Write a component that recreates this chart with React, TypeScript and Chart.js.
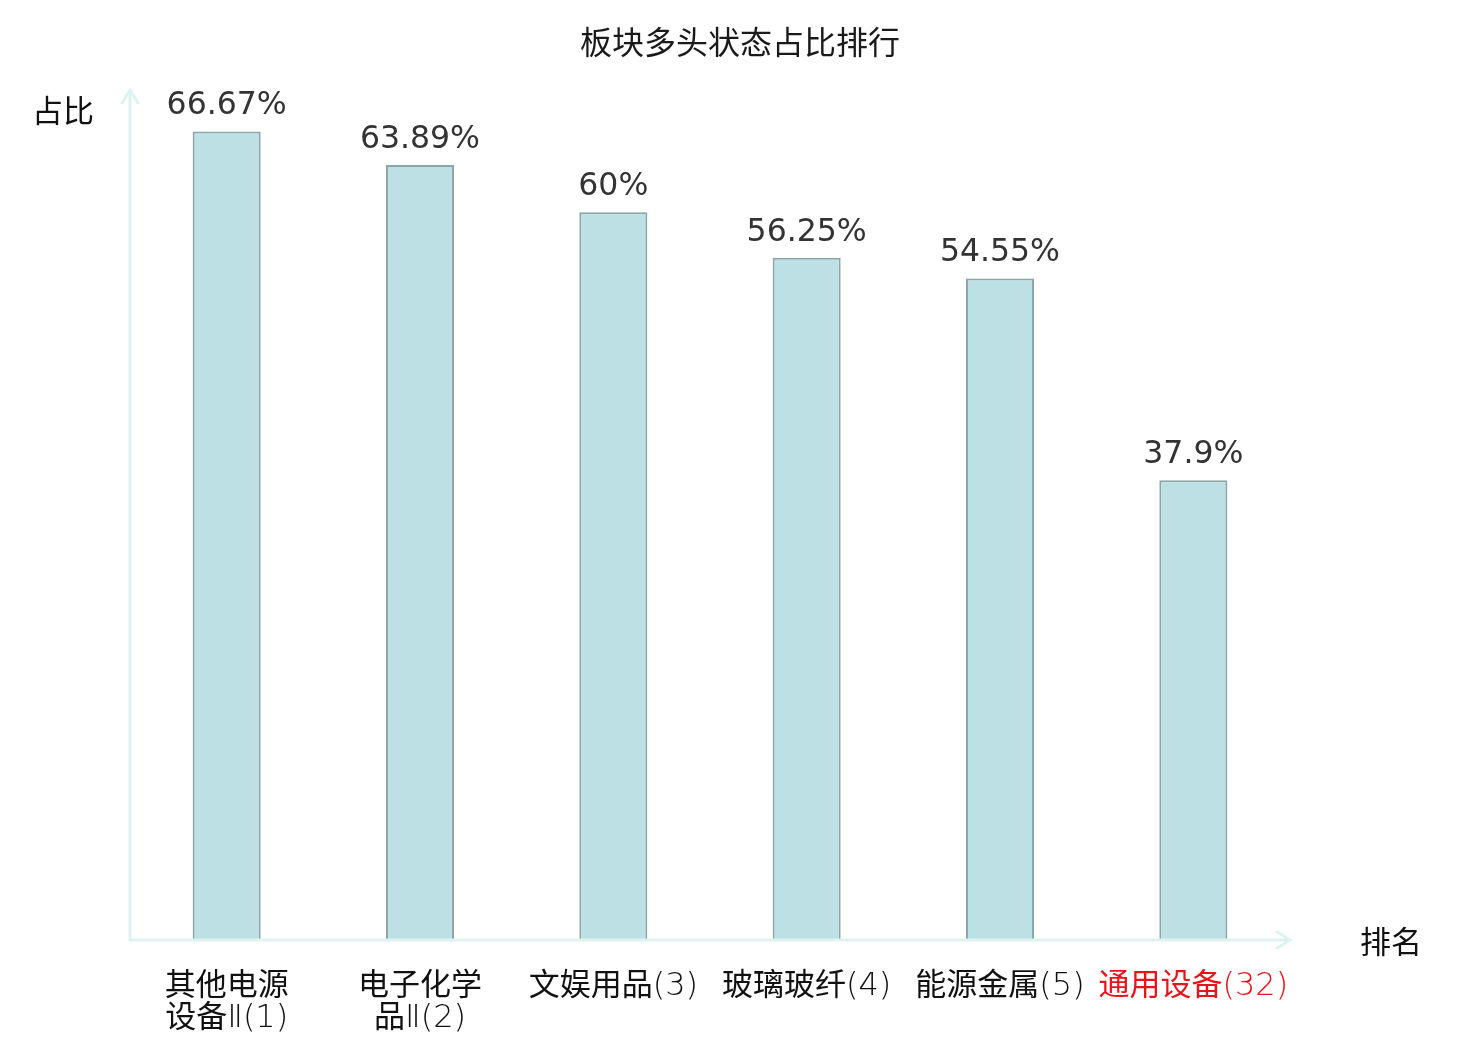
import { useEffect, useRef } from 'react';
import { Chart, registerables } from 'chart.js';

Chart.register(...registerables);

const TITLE = '板块多头状态占比排行';
const Y_NAME = '占比';
const X_NAME = '排名';

// 类目标签（每行一段）
const CATEGORIES: string[][] = [
  ['其他电源', '设备Ⅱ(1)'],
  ['电子化学', '品Ⅱ(2)'],
  ['文娱用品(3)'],
  ['玻璃玻纤(4)'],
  ['能源金属(5)'],
  ['通用设备(32)'],
];

const VALUES = [66.67, 63.89, 60, 56.25, 54.55, 37.9];
const VALUE_LABELS = ['66.67%', '63.89%', '60%', '56.25%', '54.55%', '37.9%'];
const HIGHLIGHT = [false, false, false, false, false, true];

const AXIS_COLOR = '#def2ef';
const CJK_FONT = "'Noto Sans CJK SC', 'Noto Sans', sans-serif";
const NUM_FONT = "'DejaVu Sans', sans-serif";
const LABEL_CJK = `31px ${CJK_FONT}`;
const LABEL_LATIN = `200 32px ${NUM_FONT}`;

// 中文与其他字符分段，用不同字体绘制（基线对齐）
const drawMixed = (ctx: CanvasRenderingContext2D, text: string, cx: number, baseline: number) => {
  const runs = text.match(/[\u4e00-\u9fff]+|[^\u4e00-\u9fff]+/g) || [];
  const pieces = runs.map((r) => {
    const font = /[\u4e00-\u9fff]/.test(r) ? LABEL_CJK : LABEL_LATIN;
    ctx.font = font;
    return { r, font, w: ctx.measureText(r).width };
  });
  const total = pieces.reduce((s, p) => s + p.w, 0);
  let x = cx - total / 2;
  ctx.textAlign = 'left';
  ctx.textBaseline = 'alphabetic';
  pieces.forEach((p) => {
    ctx.font = p.font;
    ctx.fillText(p.r, x, baseline);
    x += p.w;
  });
};

// 自定义绘制：标题、坐标轴箭头、数值、类目标签
const decorPlugin = {
  id: 'decor',
  afterDatasetsDraw(chart: Chart) {
    const { ctx, chartArea } = chart;
    const { left, right, top, bottom } = chartArea;
    const xScale = chart.scales.x;

    ctx.save();

    // 标题
    ctx.fillStyle = '#1a1a1a';
    ctx.font = `32px ${CJK_FONT}`;
    ctx.textAlign = 'center';
    ctx.textBaseline = 'middle';
    ctx.fillText(TITLE, 740, 42);

    // 坐标轴
    ctx.strokeStyle = AXIS_COLOR;
    ctx.lineWidth = 3;
    ctx.lineCap = 'round';
    ctx.beginPath();
    ctx.moveTo(left, bottom);
    ctx.lineTo(left, top - 1);
    ctx.moveTo(left - 8, top + 12);
    ctx.lineTo(left, top - 1);
    ctx.lineTo(left + 8, top + 12);
    ctx.moveTo(left, bottom);
    ctx.lineTo(right, bottom);
    ctx.moveTo(right - 13, bottom - 8);
    ctx.lineTo(right, bottom);
    ctx.lineTo(right - 13, bottom + 8);
    ctx.stroke();

    // 轴名称
    ctx.fillStyle = '#111';
    ctx.font = `31px ${CJK_FONT}`;
    ctx.textAlign = 'center';
    ctx.textBaseline = 'middle';
    ctx.fillText(Y_NAME, 63, 110);
    ctx.fillText(X_NAME, 1391, 941);

    // 数值标签
    const meta = chart.getDatasetMeta(0);
    ctx.fillStyle = '#333';
    ctx.font = `31.5px ${NUM_FONT}`;
    ctx.textBaseline = 'alphabetic';
    meta.data.forEach((bar, i) => {
      ctx.fillText(VALUE_LABELS[i], bar.x, bar.y - 17);
    });

    // 类目标签
    CATEGORIES.forEach((lines, i) => {
      const x = xScale.getPixelForValue(i);
      ctx.fillStyle = HIGHLIGHT[i] ? '#e8141a' : '#111';
      lines.forEach((line, j) => {
        drawMixed(ctx, line, x, 995 + j * 32);
      });
    });

    ctx.restore();
  },
};

const App: React.FC = () => {
  const chartRef = useRef<HTMLCanvasElement>(null);

  useEffect(() => {
    document.body.style.margin = '0';
    if (!chartRef.current) return;

    const chart = new Chart(chartRef.current, {
      type: 'bar',
      data: {
        labels: CATEGORIES.map((c) => c.join('')),
        datasets: [
          {
            data: VALUES,
            backgroundColor: '#bce0e3',
            borderColor: '#8aa6a8',
            borderWidth: 2,
            categoryPercentage: 1,
            barPercentage: 0.352,
          },
        ],
      },
      options: {
        responsive: false,
        animation: false,
        layout: {
          padding: { left: 130, right: 190, top: 91, bottom: 100 },
        },
        plugins: {
          legend: { display: false },
          title: { display: false },
          tooltip: { enabled: false },
        },
        scales: {
          x: { display: false },
          y: { display: false, min: 0, max: 70 },
        },
      },
      plugins: [decorPlugin],
    });

    return () => chart.destroy();
  }, []);

  return (
    <div style={{ width: 1480, height: 1040, background: '#fff' }}>
      <canvas ref={chartRef} width={1480} height={1040} />
    </div>
  );
};

export default App;
